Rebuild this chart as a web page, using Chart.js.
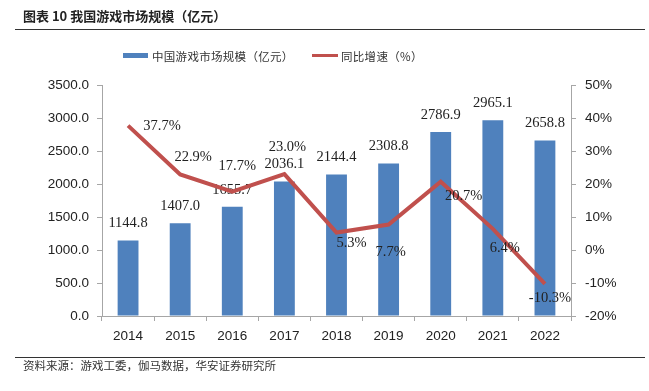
<!DOCTYPE html>
<html>
<head>
<meta charset="utf-8">
<script src="https://cdn.jsdelivr.net/npm/chart.js@4"></script>
<style>
  html, body { margin: 0; padding: 0; background: #fff; }
  #wrap { position: relative; width: 649px; height: 391px; overflow: hidden; }
  canvas { position: absolute; left: 0; top: 0; }
  .txt { position: absolute; font-family: "Noto Sans CJK SC", sans-serif; color: #222; white-space: nowrap; }
  .rule { position: absolute; left: 15px; width: 630px; height: 1px; background: #333; }
  .key { position: absolute; }
</style>
</head>
<body>
<div id="wrap">
  <canvas id="chart" width="649" height="391"></canvas>
  <div class="txt" style="left:23px; top:7px; font-size:13px; font-weight:bold; line-height:18px;">图表 10 我国游戏市场规模（亿元）</div>
  <div class="rule" style="top:29px;"></div>
  <div class="key" style="left:123px; top:53px; width:25px; height:5px; background:#4F81BD;"></div>
  <div class="txt" style="left:152px; top:47px; font-size:11.5px; line-height:18px; color:#333; letter-spacing:0.3px;">中国游戏市场规模（亿元）</div>
  <div class="key" style="left:312px; top:54px; width:26px; height:3px; background:#C0504D;"></div>
  <div class="txt" style="left:341px; top:47px; font-size:11.5px; line-height:18px; color:#333; letter-spacing:0.3px;">同比增速（%）</div>
  <div class="rule" style="top:357px;"></div>
  <div class="txt" style="left:23px; top:356px; font-size:11.5px; line-height:18px; color:#333;">资料来源：游戏工委，伽马数据，华安证券研究所</div>
</div>
<script>
const years = ['2014', '2015', '2016', '2017', '2018', '2019', '2020', '2021', '2022'];
const marketSize = [1144.8, 1407.0, 1655.7, 2036.1, 2144.4, 2308.8, 2786.9, 2965.1, 2658.8];
const growth = [37.7, 22.9, 17.7, 23.0, 5.3, 7.7, 20.7, 6.4, -10.3];

// where each growth label sits relative to its point
const growthLabelShift = [[34, 1], [13, -17], [5, -25], [3, -27], [15, 11], [2, 28], [23, 14], [12, 19], [5, 14]];

const axisGray = '#A6A6A6';
const labelFont = '14.5px "Liberation Serif", "Times New Roman", serif';

const labelsPlugin = {
  id: 'valueLabels',
  afterDatasetDraw(chart, args) {
    // bar values go under the line
    if (args.index !== 1) return;
    const ctx = chart.ctx;
    ctx.save();
    ctx.font = labelFont;
    ctx.fillStyle = '#222';
    ctx.textAlign = 'center';
    ctx.textBaseline = 'middle';
    args.meta.data.forEach((bar, i) => {
      ctx.fillText(marketSize[i].toFixed(1), bar.x, bar.y - 17);
    });
    ctx.restore();
  },
  afterDatasetsDraw(chart) {
    const ctx = chart.ctx;
    const meta = chart.getDatasetMeta(0);
    ctx.save();
    ctx.font = labelFont;
    ctx.fillStyle = '#222';
    ctx.textAlign = 'center';
    ctx.textBaseline = 'middle';
    meta.data.forEach((pt, i) => {
      const s = growthLabelShift[i];
      ctx.fillText(growth[i].toFixed(1) + '%', pt.x + s[0], pt.y + s[1]);
    });
    ctx.restore();
  }
};

document.addEventListener('DOMContentLoaded', () => {
  const ctx = document.getElementById('chart').getContext('2d');
  new Chart(ctx, {
    data: {
      labels: years,
      datasets: [
        {
          type: 'line',
          label: '同比增速（%）',
          data: growth,
          yAxisID: 'y1',
          borderColor: '#C0504D',
          backgroundColor: '#C0504D',
          borderWidth: 4,
          pointRadius: 0,
          tension: 0,
          borderJoinStyle: 'miter'
        },
        {
          type: 'bar',
          label: '中国游戏市场规模（亿元）',
          data: marketSize,
          yAxisID: 'y',
          backgroundColor: '#4F81BD',
          barPercentage: 0.4,
          categoryPercentage: 1.0
        }
      ]
    },
    options: {
      responsive: false,
      animation: false,
      layout: { padding: { left: 22, right: 8, top: 85, bottom: 45 } },
      plugins: { legend: { display: false }, tooltip: { enabled: false } },
      scales: {
        x: {
          grid: { drawOnChartArea: false, tickLength: 5, color: axisGray },
          border: { color: axisGray },
          ticks: { color: '#222', padding: 7, font: { family: '"Liberation Sans", Arial, sans-serif', size: 13.5 } },
          afterFit(scale) { scale.height = 30; }
        },
        y: {
          position: 'left',
          min: 0,
          max: 3500,
          grid: { drawOnChartArea: false, tickLength: 5, color: axisGray },
          border: { color: axisGray },
          ticks: {
            stepSize: 500,
            color: '#222',
            padding: 8,
            font: { family: '"Liberation Sans", Arial, sans-serif', size: 13.5 },
            callback: v => v.toFixed(1)
          },
          afterFit(scale) { scale.width = 80; }
        },
        y1: {
          position: 'right',
          min: -20,
          max: 50,
          grid: { drawOnChartArea: false, tickLength: 5, color: axisGray },
          border: { color: axisGray },
          ticks: {
            stepSize: 10,
            color: '#222',
            padding: 9,
            font: { family: '"Liberation Sans", Arial, sans-serif', size: 13.5 },
            callback: v => v + '%'
          },
          afterFit(scale) { scale.width = 70; }
        }
      }
    },
    plugins: [labelsPlugin]
  });
});
</script>
</body>
</html>
